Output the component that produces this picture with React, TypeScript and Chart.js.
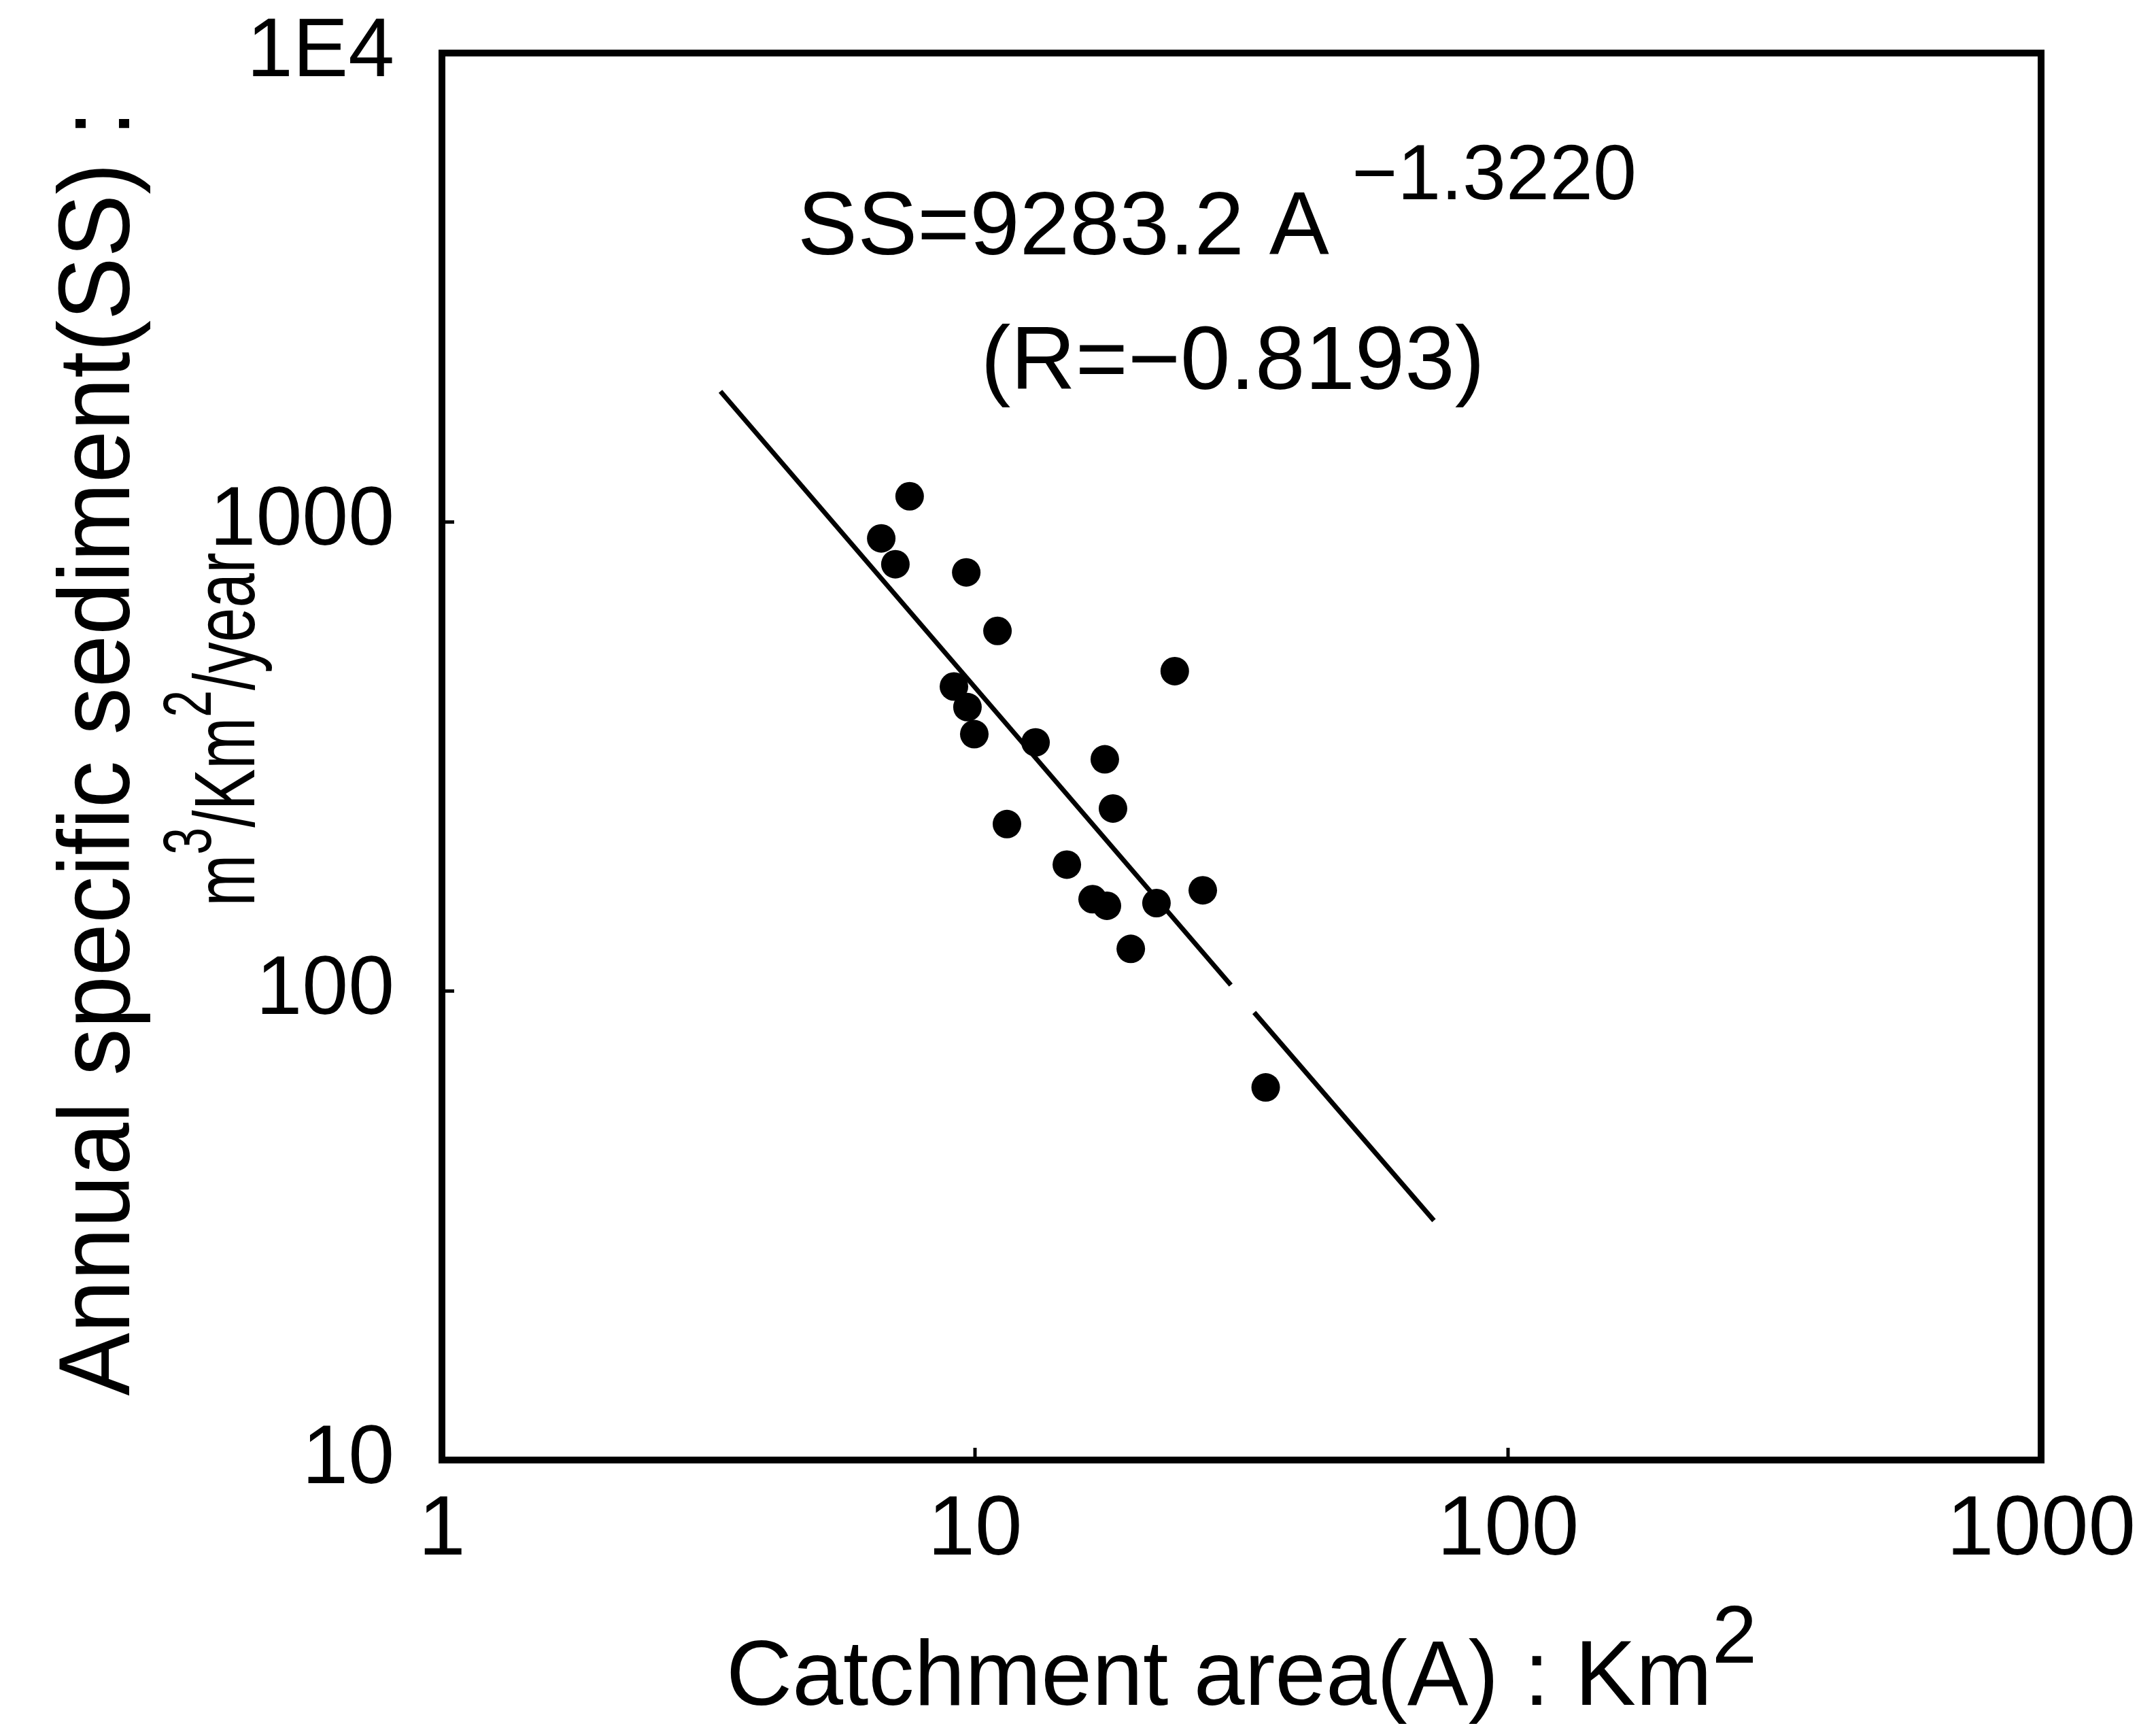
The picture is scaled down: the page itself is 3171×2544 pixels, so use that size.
import React, { useEffect, useRef } from "react";
import { Chart, registerables } from "chart.js";

Chart.register(...registerables);

// ---- data ----
const areaKm2 = [7.54, 6.67, 7.09, 9.63, 11.02, 23.7, 9.13, 9.68, 9.97, 12.99, 17.52, 18.15, 11.48, 14.87, 16.62, 17.68, 21.9, 26.75, 19.6, 35.1];
const sediment = [1135, 923, 813, 781, 586, 481, 446, 403, 353, 339, 312, 245, 227, 186, 157, 152, 154, 164, 123, 62.3];

// regression line (drawn with a small gap between 2nd and 3rd point, as in the reference)
const fitArea = [3.33, 30.2, 33.4, 72.6];
const fitSS = [1900, 103, 90, 32.4];

const xTickValues = [1, 10, 100, 1000];
const xTickLabels = ["1", "10", "100", "1000"];
const yTickValues = [10, 100, 1000, 10000];
const yTickLabels = ["10", "100", "1000", "1E4"];

// titles: [text, isSuperscript]
const xTitleParts: [string, boolean][] = [["Catchment area(A) : Km", false], ["2", true]];
const yTitleLine1: [string, boolean][] = [["Annual specific sediment(SS) :", false]];
const yTitleLine2: [string, boolean][] = [["m", false], ["3", true], ["/Km", false], ["2", true], ["/year", false]];
const eqMain = "SS=9283.2 A";
const eqExp = "−1.3220";
const eqR = "(R=−0.8193)";

const FONT = "'Liberation Sans', Arial, sans-serif";

function drawRich(
  ctx: CanvasRenderingContext2D,
  parts: [string, boolean][],
  size: number,
  supSize: number,
  supRaise: number,
  targetLength: number | null
) {
  const widths = parts.map(([t, sup]) => {
    ctx.font = `${sup ? supSize : size}px ${FONT}`;
    return ctx.measureText(t).width;
  });
  const total = widths.reduce((a, b) => a + b, 0);
  const sx = targetLength ? targetLength / total : 1;
  ctx.save();
  ctx.scale(sx, 1);
  ctx.textAlign = "left";
  ctx.textBaseline = "alphabetic";
  let x = -total / 2;
  parts.forEach(([t, sup], i) => {
    ctx.font = `${sup ? supSize : size}px ${FONT}`;
    ctx.fillText(t, x, sup ? -supRaise : 0);
    x += widths[i];
  });
  ctx.restore();
}

const framePlugin = {
  id: "frameAndNotes",
  afterDraw(chart: any) {
    const { ctx, chartArea } = chart;
    const { left, right, top, bottom } = chartArea;
    const w = right - left;
    const h = bottom - top;
    ctx.save();
    ctx.strokeStyle = "#000";
    ctx.fillStyle = "#000";
    ctx.lineWidth = 10;
    ctx.strokeRect(left, top, w, h);

    // small inward tick marks at inner decades
    ctx.lineWidth = 5;
    const xs = chart.scales.x;
    const ys = chart.scales.y;
    xTickValues.slice(1, -1).forEach((v) => {
      const px = xs.getPixelForValue(v);
      ctx.beginPath();
      ctx.moveTo(px, bottom);
      ctx.lineTo(px, bottom - 18);
      ctx.stroke();
    });
    yTickValues.slice(1, -1).forEach((v) => {
      const py = ys.getPixelForValue(v);
      ctx.beginPath();
      ctx.moveTo(left, py);
      ctx.lineTo(left + 18, py);
      ctx.stroke();
    });

    // equation annotation
    ctx.textBaseline = "alphabetic";
    ctx.textAlign = "left";
    ctx.font = `132px ${FONT}`;
    ctx.fillText(eqMain, left + 0.2224 * w, top + 0.143 * h);
    ctx.font = `115px ${FONT}`;
    ctx.fillText(eqExp, left + 0.5689 * w, top + 0.104 * h);
    ctx.textAlign = "center";
    ctx.font = `132px ${FONT}`;
    ctx.fillText(eqR, left + 0.4945 * w, top + 0.2388 * h);

    // x-axis title
    ctx.save();
    ctx.translate((left + right) / 2, bottom + 360);
    drawRich(ctx, xTitleParts, 136, 120, 62, 1516);
    ctx.restore();

    // y-axis title (rotated)
    const cy = (top + bottom) / 2;
    ctx.save();
    ctx.translate(190, cy - 5);
    ctx.rotate(-Math.PI / 2);
    drawRich(ctx, yTitleLine1, 148, 148, 0, 1890);
    ctx.restore();
    ctx.save();
    ctx.translate(374, cy - 40);
    ctx.rotate(-Math.PI / 2);
    drawRich(ctx, yTitleLine2, 127, 100, 64, 520);
    ctx.restore();

    ctx.restore();
  },
};

export default function App() {
  const ref = useRef<HTMLCanvasElement | null>(null);

  useEffect(() => {
    if (!ref.current) return;
    Chart.defaults.font.family = FONT;
    const chart = new Chart(ref.current, {
      type: "scatter",
      data: {
        datasets: [
          {
            type: "line",
            data: fitArea.map((x, i) => ({ x, y: fitSS[i] })),
            borderColor: "#000",
            borderWidth: 7,
            pointRadius: 0,
            fill: false,
            tension: 0,
            segment: {
              borderColor: (c: any) => (c.p0DataIndex === 1 ? "rgba(0,0,0,0)" : "#000"),
            },
          } as any,
          {
            type: "scatter",
            data: areaKm2.map((x, i) => ({ x, y: sediment[i] })),
            backgroundColor: "#000",
            borderColor: "#000",
            borderWidth: 0,
            pointRadius: 21,
            pointHoverRadius: 21,
          },
        ],
      },
      options: {
        responsive: false,
        animation: false,
        devicePixelRatio: 1,
        events: [],
        layout: { padding: { left: 0, top: 78, right: 169, bottom: 0 } },
        plugins: {
          legend: { display: false },
          tooltip: { enabled: false },
        },
        scales: {
          x: {
            type: "logarithmic",
            min: 1,
            max: 1000,
            afterBuildTicks: (s: any) => {
              s.ticks = xTickValues.map((v) => ({ value: v }));
            },
            afterFit: (s: any) => {
              s.height = 397;
              s.paddingLeft = 0;
              s.paddingRight = 0;
            },
            grid: { display: false, drawTicks: false },
            border: { display: false },
            ticks: {
              autoSkip: false,
              maxRotation: 0,
              padding: 30,
              color: "#000",
              font: { family: FONT, size: 125 },
              callback: (v: any) => {
                const i = xTickValues.indexOf(Number(v));
                return i >= 0 ? xTickLabels[i] : "";
              },
            },
            title: { display: false },
          },
          y: {
            type: "logarithmic",
            min: 10,
            max: 10000,
            afterBuildTicks: (s: any) => {
              s.ticks = yTickValues.map((v) => ({ value: v }));
            },
            afterFit: (s: any) => {
              s.width = 650;
              s.paddingTop = 0;
              s.paddingBottom = 0;
            },
            grid: { display: false, drawTicks: false },
            border: { display: false },
            ticks: {
              autoSkip: false,
              padding: 70,
              color: "#000",
              font: { family: FONT, size: 122 },
              callback: (v: any) => {
                const i = yTickValues.indexOf(Number(v));
                return i >= 0 ? yTickLabels[i] : "";
              },
            },
            title: { display: false },
          },
        },
      },
      plugins: [framePlugin],
    } as any);
    return () => chart.destroy();
  }, []);

  return (
    <canvas
      ref={ref}
      width={3171}
      height={2544}
      style={{ position: "absolute", left: 0, top: 0, display: "block", background: "#fff" }}
    />
  );
}
